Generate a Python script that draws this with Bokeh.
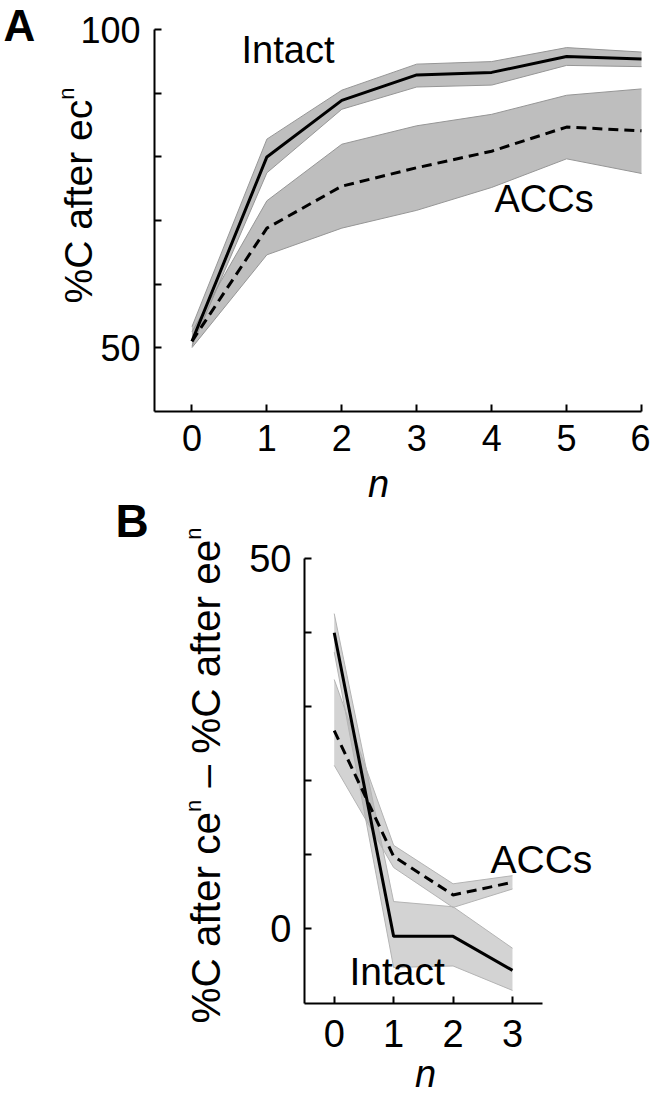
import math
from bokeh.plotting import figure
from bokeh.layouts import column
from bokeh.models import Label, FixedTicker, Range1d, CustomJSTickFormatter
from bokeh.embed import file_html
from bokeh.resources import INLINE

# ---------------- data: panel A ----------------
n_a = [0, 1, 2, 3, 4, 5, 6]
intact_a = [51.0, 80.0, 88.9, 92.9, 93.3, 95.8, 95.4]
intact_a_lo = [50.2, 77.5, 87.5, 91.0, 91.3, 94.4, 94.2]
intact_a_hi = [53.3, 82.8, 90.5, 94.6, 95.0, 97.2, 96.5]
acc_a = [51.0, 68.8, 75.4, 78.3, 80.9, 84.7, 84.1]
acc_a_lo = [50.0, 64.6, 68.8, 71.6, 75.2, 79.7, 77.4]
acc_a_hi = [52.5, 73.1, 82.0, 84.9, 86.7, 89.7, 90.7]
xticks_a = [0, 1, 2, 3, 4, 5, 6]
yticks_a = [50, 60, 70, 80, 90, 100]
ylabels_a = [50, 100]
xlim_a = (-0.5, 6)
ylim_a = (40, 100)

# ---------------- data: panel B ----------------
n_b = [0, 1, 2, 3]
intact_b = [40.0, -1.0, -1.0, -5.6]
intact_b_lo = [37.4, -5.2, -5.0, -8.3]
intact_b_hi = [42.6, 3.7, 3.0, -2.6]
acc_b = [26.8, 9.8, 4.6, 6.3]
acc_b_lo = [22.1, 8.3, 2.9, 5.4]
acc_b_hi = [33.7, 11.3, 6.1, 7.2]
xticks_b = [0, 1, 2, 3]
yticks_b = [0, 10, 20, 30, 40, 50]
ylabels_b = [0, 50]
xlim_b = (-0.5, 3.5)
ylim_b = (-10, 50)

FONT = "Liberation Sans"
MID = 0.35          # offset (em) from alphabetic baseline to the 'middle' anchor
W = 650
HA, HB = 461, 636
TOP_B = HA


def span(v0, v1, p0, p1, total):
    k = (v1 - v0) / (p1 - p0)
    return (v0 - p0 * k, v0 + (total - p0) * k)


def make_panel(H, top, xlim, ylim, xpx, ypx):
    xr = span(xlim[0], xlim[1], xpx[0], xpx[1], W)
    yr = span(ylim[0], ylim[1], H - (ypx[0] - top), H - (ypx[1] - top), H)
    p = figure(width=W, height=H, x_range=Range1d(*xr), y_range=Range1d(*yr),
               min_border=0, min_border_left=0, min_border_right=0,
               min_border_top=0, min_border_bottom=0,
               output_backend="svg", toolbar_location=None)
    p.xaxis.fixed_location = ylim[0]
    p.xaxis.bounds = xlim
    p.yaxis.fixed_location = xlim[0]
    p.yaxis.bounds = ylim
    return p


def style_axes(p, xt, yt, ylab, fsize, xstand, ystand):
    p.xaxis.ticker = FixedTicker(ticks=xt)
    p.yaxis.ticker = FixedTicker(ticks=yt)
    p.yaxis.formatter = CustomJSTickFormatter(
        args=dict(show=ylab),
        code="return show.includes(Math.round(tick)) ? String(Math.round(tick)) : '';")
    for ax in (p.xaxis[0], p.yaxis[0]):
        ax.axis_line_color = "black"
        ax.axis_line_width = 2
        ax.major_tick_line_color = "black"
        ax.major_tick_line_width = 2
        ax.major_tick_in = 7
        ax.major_tick_out = 0
        ax.minor_tick_line_color = None
        ax.major_label_text_font = FONT
        ax.major_label_text_font_size = f"{fsize}px"
        ax.major_label_text_color = "black"
    p.xaxis.major_label_standoff = xstand
    p.yaxis.major_label_standoff = ystand
    p.grid.visible = False
    p.outline_line_color = None
    p.background_fill_color = "white"
    p.border_fill_color = "white"


def page_text(p, H, top, px, py, text, size, rotated=False, align="left",
              style="normal"):
    """px, py: page pixels; for horizontal text py is the baseline,
    for rotated (reading upward) text px is the baseline."""
    if rotated:
        sx, sy, ang = px - MID * size, H - (py - top), math.pi / 2
    else:
        sx, sy, ang = px, H - (py - MID * size - top), 0.0
    p.add_layout(Label(x=sx, y=sy, x_units="screen", y_units="screen",
                       text=text, angle=ang, text_align=align,
                       text_baseline="middle", text_font=FONT,
                       text_font_size=f"{size}px", text_font_style=style,
                       text_color="black"))


def em(s):
    w = {"%": 0.889, "C": 0.722, " ": 0.278, "a": 0.556, "f": 0.278, "t": 0.278,
         "e": 0.556, "r": 0.333, "c": 0.5, "n": 0.556, "\u2013": 0.556}
    return sum(w[ch] for ch in s)


def rotated_label(p, H, top, base_x, start_y, parts, size, sup_size, raise_px):
    """parts: list of (text, is_superscript); drawn upward from start_y."""
    y = start_y
    for txt, sup in parts:
        s = sup_size if sup else size
        lead = len(txt) - len(txt.lstrip(" "))
        y -= em(" " * lead) * s
        txt = txt.lstrip(" ")
        bx = base_x - raise_px if sup else base_x
        page_text(p, H, top, bx, y, txt, s, rotated=True)
        y -= em(txt) * s + (1 if sup else 0)


band_fill = "#a8a8a8"

# ---------------- panel A ----------------
pA = make_panel(HA, 0, xlim_a, ylim_a, (154.0, 641.0), (410.7, 29.3))
style_axes(pA, xticks_a, yticks_a, ylabels_a, 36, 14, 14)
pA.varea(x=n_a, y1=acc_a_lo, y2=acc_a_hi, fill_color=band_fill, fill_alpha=0.75)
pA.varea(x=n_a, y1=intact_a_lo, y2=intact_a_hi, fill_color=band_fill, fill_alpha=0.75)
for arr in (acc_a_lo, acc_a_hi, intact_a_lo, intact_a_hi):
    pA.line(n_a, arr, line_color="#969696", line_width=1)
pA.line(n_a, intact_a, line_color="black", line_width=3)
pA.line(n_a, acc_a, line_color="black", line_width=3, line_dash="10 6")

page_text(pA, HA, 0, 3, 40, "A", 44, style="bold")
page_text(pA, HA, 0, 241, 63, "Intact", 38)
page_text(pA, HA, 0, 494, 212, "ACCs", 38)
rotated_label(pA, HA, 0, 92, 303, [("%C after ec", False), ("n", True)], 39, 22, 18)

# ---------------- panel B ----------------
pB = make_panel(HB, TOP_B, xlim_b, ylim_b, (304.0, 541.7), (1002.5, 558.3))
style_axes(pB, xticks_b, yticks_b, ylabels_b, 38, 17, 13)
pB.varea(x=n_b, y1=acc_b_lo, y2=acc_b_hi, fill_color=band_fill, fill_alpha=0.5)
pB.varea(x=n_b, y1=intact_b_lo, y2=intact_b_hi, fill_color=band_fill, fill_alpha=0.5)
for arr in (acc_b_lo, acc_b_hi, intact_b_lo, intact_b_hi):
    pB.line(n_b, arr, line_color="#b4b4b4", line_width=1)
pB.line(n_b, intact_b, line_color="black", line_width=3)
pB.line(n_b, acc_b, line_color="black", line_width=3, line_dash="10 6")

# x-axis title of panel A sits just above panel B's figure area
page_text(pB, HB, TOP_B, 378, 497, "n", 38, align="center", style="italic")
page_text(pB, HB, TOP_B, 115, 537, "B", 46, style="bold")
page_text(pB, HB, TOP_B, 490, 873, "ACCs", 39)
page_text(pB, HB, TOP_B, 349, 985, "Intact", 39)
rotated_label(pB, HB, TOP_B, 220, 1023,
              [("%C after ce", False), ("n", True), (" \u2013 %C after ee", False),
               ("n", True)], 40.5, 22, 19)
page_text(pB, HB, TOP_B, 425, 1087, "n", 38, align="center", style="italic")

layout = column(pA, pB, spacing=0)
open("out.html", "w").write(file_html(layout, INLINE))
